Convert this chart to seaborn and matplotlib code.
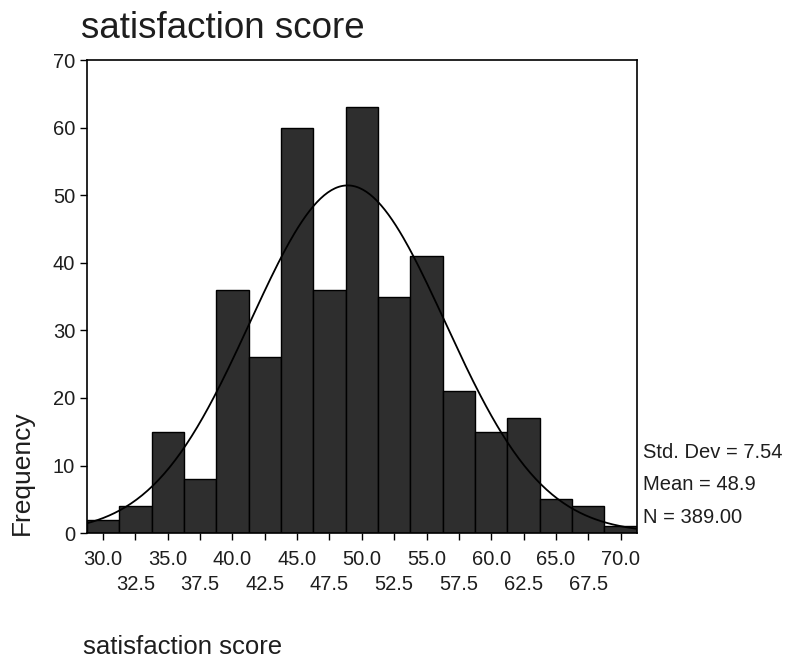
import numpy as np
import pandas as pd
import matplotlib
matplotlib.use("Agg")
import matplotlib.pyplot as plt
import seaborn as sns

# bin midpoints and counts
bin_mid = [30.0, 32.5, 35.0, 37.5, 40.0, 42.5, 45.0, 47.5, 50.0,
           52.5, 55.0, 57.5, 60.0, 62.5, 65.0, 67.5, 70.0]
counts = [2, 4, 15, 8, 36, 26, 60, 36, 63, 35, 41, 21, 15, 17, 5, 4, 1]
bin_width = 2.5

# summary statistics printed on the chart
std_dev = 7.54
mean = 48.9
n_total = 389

sns.set_theme(style="white")
plt.rcParams["font.family"] = ["Liberation Sans", "DejaVu Sans"]
plt.rcParams["text.color"] = "#1e1e1e"
plt.rcParams["xtick.color"] = "#1e1e1e"
plt.rcParams["ytick.color"] = "#1e1e1e"

df = pd.DataFrame({"score": bin_mid, "count": counts})
lo = bin_mid[0] - bin_width / 2
hi = bin_mid[-1] + bin_width / 2

fig = plt.figure(figsize=(7.9, 6.68), dpi=100)
ax = fig.add_axes([0.110, 0.202, 0.696, 0.708])

sns.histplot(data=df, x="score", weights="count", binwidth=bin_width,
             binrange=(lo, hi), ax=ax,
             color="#2e2e2e", edgecolor="black", linewidth=1.0, alpha=1.0)

# normal curve from the shown mean / sd / N
xs = np.linspace(lo, hi, 300)
ys = n_total * bin_width * np.exp(-0.5 * ((xs - mean) / std_dev) ** 2) / (std_dev * np.sqrt(2 * np.pi))
ax.plot(xs, ys, color="black", linewidth=1.3)

ax.set_xlim(lo, hi)
ax.set_ylim(0, 70)
ax.set_yticks(range(0, 71, 10))

# staggered x labels: even bins on first row, odd bins on second row
row1 = bin_mid[::2]
row2 = bin_mid[1::2]
ax.set_xticks(row1)
ax.set_xticklabels([f"{v:.1f}" for v in row1])
ax.set_xticks(row2, minor=True)
ax.set_xticklabels([f"{v:.1f}" for v in row2], minor=True)
ax.set_xlabel("")
ax.set_ylabel("")
ax.tick_params(axis="both", which="both", labelsize=14.5, length=5, width=1.0,
               color="black", direction="out", bottom=True, left=True)
ax.tick_params(axis="x", which="major", pad=7)
ax.tick_params(axis="x", which="minor", pad=25)
for s in ax.spines.values():
    s.set_color("black")
    s.set_linewidth(1.2)

fig.text(0.102, 0.958, "satisfaction score", fontsize=26.5, va="center", ha="left")
fig.text(0.105, 0.013, "satisfaction score", fontsize=18.5, va="bottom", ha="left")
fig.text(0.028, 0.293, "Frequency", fontsize=19, rotation=90, va="center", ha="center")

fig.text(0.814, 0.323, f"Std. Dev = {std_dev:.2f}", fontsize=14.5, va="center")
fig.text(0.814, 0.274, f"Mean = {mean:.1f}", fontsize=14.5, va="center")
fig.text(0.814, 0.225, f"N = {n_total:.2f}", fontsize=14.5, va="center")

fig.savefig("out.png", dpi=100)
